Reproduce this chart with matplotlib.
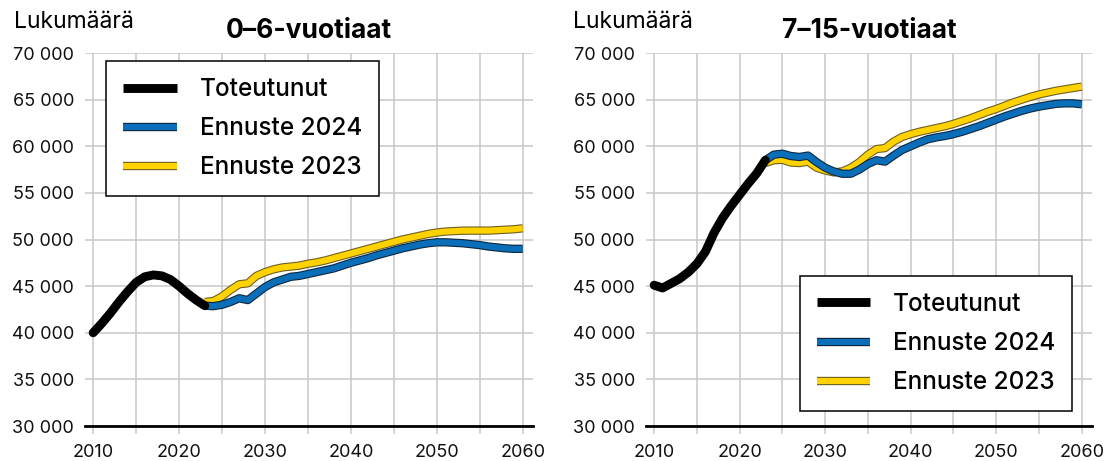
import matplotlib
matplotlib.use("Agg")
import matplotlib.pyplot as plt
import matplotlib.patheffects as pe

plt.rcParams['font.family'] = ['Inter', 'DejaVu Sans']

# data
years_obs = list(range(2010, 2024))
years_fc = list(range(2023, 2061))

obs_0_6 = [40000, 41000, 42100, 43300, 44400, 45400, 46000, 46200, 46100, 45700,
           45000, 44200, 43500, 42900]
fc24_0_6 = [42900, 42850, 43000, 43300, 43700, 43500, 44200, 44900, 45400, 45700,
            46000, 46100, 46300, 46500, 46700, 46900, 47200, 47500, 47750, 48000,
            48300, 48550, 48800, 49050, 49250, 49450, 49600, 49700, 49700, 49650,
            49600, 49500, 49400, 49250, 49150, 49050, 49000, 49000]
fc23_0_6 = [43300, 43400, 43900, 44600, 45200, 45300, 46100, 46500, 46800, 47000,
            47100, 47200, 47400, 47550, 47750, 48000, 48250, 48500, 48750, 49000,
            49250, 49500, 49750, 50000, 50200, 50400, 50600, 50750, 50850, 50900,
            50950, 50950, 50950, 50950, 51000, 51050, 51100, 51200]

obs_7_15 = [45100, 44800, 45300, 45800, 46500, 47400, 48700, 50700, 52300, 53600,
            54800, 56000, 57100, 58500]
fc24_7_15 = [58500, 59100, 59200, 58950, 58850, 59000, 58300, 57700, 57300, 57050,
             57050, 57500, 58100, 58500, 58350, 59000, 59600, 60000, 60400, 60750,
             60950, 61100, 61300, 61550, 61850, 62150, 62500, 62850, 63200, 63500,
             63800, 64050, 64250, 64400, 64550, 64600, 64600, 64500]
fc23_7_15 = [58200, 58500, 58550, 58250, 58200, 58350, 57700, 57400, 57200, 57300,
             57700, 58300, 59100, 59700, 59800, 60500, 61000, 61300, 61550, 61750,
             61950, 62150, 62400, 62700, 63000, 63350, 63700, 64000, 64350, 64700,
             65000, 65300, 65550, 65750, 65950, 66100, 66250, 66400]

titles = ["0–6-vuotiaat", "7–15-vuotiaat"]
labels = ["Toteutunut", "Ennuste 2024", "Ennuste 2023"]
yticks = list(range(30000, 70001, 5000))
xticks = [2010, 2020, 2030, 2040, 2050, 2060]

BLUE = "#0a6fb8"
BLUE_EDGE = "#0d2740"
GOLD = "#ffd200"
GOLD_EDGE = "#6e6020"
GRID = "#c8c8c8"

fig = plt.figure(figsize=(11.14, 4.61), dpi=100)
W, H = 1114, 461
ax_l = fig.add_axes([85 / W, 1 - 426 / H, 448 / W, 373 / H])
ax_r = fig.add_axes([646 / W, 1 - 426 / H, 446 / W, 373 / H])


def fmt(v):
    return f"{v:,}".replace(",", " ")


def draw(ax, obs, fc24, fc23, title, legend_kw):
    ax.set_xlim(2009.05, 2061.2)
    ax.set_ylim(30000, 70000)
    ax.set_xticks(range(2010, 2061, 5))
    ax.set_xticklabels([str(x) if x in xticks else "" for x in range(2010, 2061, 5)])
    ax.set_yticks(yticks)
    ax.set_yticklabels([fmt(v) for v in yticks])
    ax.grid(True, color=GRID, lw=1.1)
    ax.set_axisbelow(True)
    for s in ["top", "right", "left"]:
        ax.spines[s].set_visible(False)
    ax.spines["bottom"].set_color("black")
    ax.spines["bottom"].set_linewidth(2.0)
    ax.tick_params(axis="both", length=6, width=1.1, color=GRID, labelsize=13,
                   pad=7, labelcolor="#111111")
    ax.tick_params(axis="y", length=0, pad=8)

    l23, = ax.plot(years_fc, fc23, color=GOLD, lw=4.4, solid_capstyle="butt",
                   path_effects=[pe.Stroke(linewidth=6.0, foreground=GOLD_EDGE), pe.Normal()],
                   label=labels[2], zorder=3)
    l24, = ax.plot(years_fc, fc24, color=BLUE, lw=4.4, solid_capstyle="butt",
                   path_effects=[pe.Stroke(linewidth=6.0, foreground=BLUE_EDGE), pe.Normal()],
                   label=labels[1], zorder=4)
    lo, = ax.plot(years_obs, obs, color="black", lw=6.4, solid_capstyle="round",
                  solid_joinstyle="round", label=labels[0], zorder=5)

    ax.set_title(title, fontsize=19, fontweight="bold", pad=11)
    leg = ax.legend(handles=[lo, l24, l23], frameon=True, fancybox=False,
                    prop={"size": 17.5, "weight": 500},
                    edgecolor="black", framealpha=1, handlelength=2.2,
                    handletextpad=0.95, labelspacing=0.66, borderpad=0.7,
                    borderaxespad=0, **legend_kw)
    leg.get_frame().set_linewidth(1.1)
    for h in leg.get_lines():
        h.set_solid_capstyle("butt")


draw(ax_l, obs_0_6, fc24_0_6, fc23_0_6, titles[0],
     dict(loc="upper left", bbox_to_anchor=(0.047, 0.978)))
draw(ax_r, obs_7_15, fc24_7_15, fc23_7_15, titles[1],
     dict(loc="lower right", bbox_to_anchor=(0.956, 0.04)))

fig.text(14 / W, 1 - 22 / H, "Lukumäärä", fontsize=16.5, va="center", ha="left")
fig.text(573 / W, 1 - 22 / H, "Lukumäärä", fontsize=16.5, va="center", ha="left")

fig.savefig("out.png", dpi=100)
